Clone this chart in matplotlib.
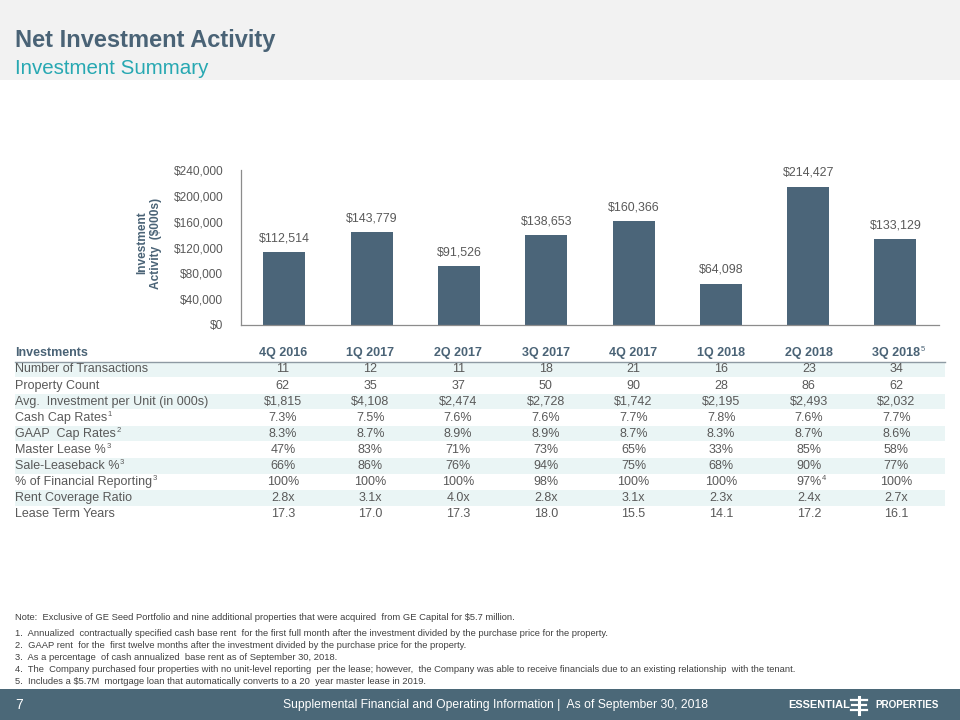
import matplotlib
matplotlib.use("Agg")
import matplotlib.pyplot as plt
from matplotlib.patches import Rectangle
from matplotlib.ticker import FuncFormatter, MultipleLocator

# ---------------- data ----------------
quarters = ["4Q 2016", "1Q 2017", "2Q 2017", "3Q 2017", "4Q 2017", "1Q 2018", "2Q 2018", "3Q 2018"]
quarter_notes = ["", "", "", "", "", "", "", "5"]
investment = [112514, 143779, 91526, 138653, 160366, 64098, 214427, 133129]

row_labels = ["Number of Transactions", "Property Count", "Avg.  Investment per Unit (in 000s)",
              "Cash Cap Rates", "GAAP  Cap Rates", "Master Lease %", "Sale-Leaseback %",
              "% of Financial Reporting", "Rent Coverage Ratio", "Lease Term Years"]
row_label_notes = ["", "", "", "1", "2", "3", "3", "3", "", ""]

transactions = ["11", "12", "11", "18", "21", "16", "23", "34"]
property_count = ["62", "35", "37", "50", "90", "28", "86", "62"]
avg_investment = ["$1,815", "$4,108", "$2,474", "$2,728", "$1,742", "$2,195", "$2,493", "$2,032"]
cash_cap = ["7.3%", "7.5%", "7.6%", "7.6%", "7.7%", "7.8%", "7.6%", "7.7%"]
gaap_cap = ["8.3%", "8.7%", "8.9%", "8.9%", "8.7%", "8.3%", "8.7%", "8.6%"]
master_lease = ["47%", "83%", "71%", "73%", "65%", "33%", "85%", "58%"]
sale_leaseback = ["66%", "86%", "76%", "94%", "75%", "68%", "90%", "77%"]
fin_reporting = ["100%", "100%", "100%", "98%", "100%", "100%", "97%", "100%"]
fin_reporting_notes = ["", "", "", "", "", "", "4", ""]
rent_coverage = ["2.8x", "3.1x", "4.0x", "2.8x", "3.1x", "2.3x", "2.4x", "2.7x"]
lease_term = ["17.3", "17.0", "17.3", "18.0", "15.5", "14.1", "17.2", "16.1"]

table_rows = [transactions, property_count, avg_investment, cash_cap, gaap_cap,
              master_lease, sale_leaseback, fin_reporting, rent_coverage, lease_term]
cell_notes = {(7, i): n for i, n in enumerate(fin_reporting_notes) if n}

footnotes = [
    "Note:  Exclusive of GE Seed Portfolio and nine additional properties that were acquired  from GE Capital for $5.7 million.",
    "1.  Annualized  contractually specified cash base rent  for the first full month after the investment divided by the purchase price for the property.",
    "2.  GAAP rent  for the  first twelve months after the investment divided by the purchase price for the property.",
    "3.  As a percentage  of cash annualized  base rent as of September 30, 2018.",
    "4.  The  Company purchased four properties with no unit-level reporting  per the lease; however,  the Company was able to receive financials due to an existing relationship  with the tenant.",
    "5.  Includes a $5.7M  mortgage loan that automatically converts to a 20  year master lease in 2019.",
]

# ---------------- style ----------------
SANS = ["Liberation Sans", "DejaVu Sans"]
plt.rcParams["font.family"] = SANS
SLATE = "#4a6376"
BAR = "#4b6579"
TEAL = "#27a8b2"
GRAY = "#595959"
BAND = "#eaf5f5"
FOOT = "#4b6878"

W, H = 960, 720
fig = plt.figure(figsize=(9.6, 7.2), dpi=100)
fig.patch.set_facecolor("white")


def fx(x):
    return x / W


def fy(y):
    return 1 - y / H


def rect(x0, y0, x1, y1, color, z=0):
    fig.add_artist(Rectangle((fx(x0), fy(y1)), (x1 - x0) / W, (y1 - y0) / H,
                             transform=fig.transFigure, facecolor=color,
                             edgecolor="none", zorder=z))


def text(x, y, s, **kw):
    kw.setdefault("parse_math", False)
    return fig.text(fx(x), fy(y), s, **kw)


# header band
rect(0, 0, W, 80, "#f2f2f2")
text(15, 46.5, "Net Investment Activity", fontsize=17, fontweight="bold",
     color=SLATE, va="baseline", ha="left")
text(15, 74, "Investment Summary", fontsize=14.8, color=TEAL, va="baseline", ha="left")

# ---------------- bar chart ----------------
ax_left, ax_right = 240.7, 939.1
ax_top, ax_bottom = 170, 325
ax = fig.add_axes([fx(ax_left), fy(ax_bottom), (ax_right - ax_left) / W, (ax_bottom - ax_top) / H])
xpos = list(range(len(quarters)))
bars = ax.bar(xpos, investment, width=0.48, color=BAR, zorder=2)
ax.set_xlim(-0.5, len(quarters) - 0.5)
ax.set_ylim(0, 240000)
ax.yaxis.set_major_locator(MultipleLocator(40000))
ax.yaxis.set_major_formatter(FuncFormatter(lambda v, p: f"${v:,.0f}"))
ax.set_xticks([])
ax.tick_params(axis="y", length=0, pad=12.5, labelsize=8.6, labelcolor=GRAY)
for side in ["top", "right"]:
    ax.spines[side].set_visible(False)
for side in ["left", "bottom"]:
    ax.spines[side].set_color("#8c8c8c")
    ax.spines[side].set_linewidth(0.9)
ax.set_facecolor("none")
for b, v in zip(bars, investment):
    ax.annotate(f"${v:,}", (b.get_x() + b.get_width() / 2, v), xytext=(0, 5.5),
                textcoords="offset points", ha="center", va="bottom",
                fontsize=8.9, color=GRAY)

text(149, 243, "Investment\nActivity  ($000s)", rotation=90, ha="center", va="center",
     multialignment="center", fontsize=8.6, fontweight="bold", color=SLATE, linespacing=1.15)

# ---------------- table ----------------
renderer = fig.canvas.get_renderer()
col_x = [ax_left + (i + 0.5) * (ax_right - ax_left) / len(quarters) - 1.5 for i in range(len(quarters))]
col_x = [c + i * 0.35 for i, c in enumerate(col_x)]
header_y = 353
row_y0 = 369.5
row_h = 16.05
tbl_left, tbl_right = 15, 945


def sup(t, s, color, size=5.5):
    bb = t.get_window_extent(renderer)
    fig.text((bb.x1 + 0.5) / W, (bb.y1 + 1) / H, s, fontsize=size, color=color,
             ha="left", va="top")


# header
text(tbl_left, header_y, "Investments", fontsize=9, fontweight="bold", color=SLATE,
     ha="left", va="center")
for i, q in enumerate(quarters):
    t = text(col_x[i], header_y, q, fontsize=9, fontweight="bold", color=SLATE,
             ha="center", va="center")
    if quarter_notes[i]:
        sup(t, quarter_notes[i], SLATE)
fig.add_artist(plt.Line2D([fx(tbl_left), fx(tbl_right)], [fy(361.8), fy(361.8)],
                          transform=fig.transFigure, color="#8e9aa3", lw=1.0))

for r, (lab, vals) in enumerate(zip(row_labels, table_rows)):
    yc = row_y0 + r * row_h
    if r % 2 == 0:
        rect(tbl_left, yc - row_h / 2 + 0.3, tbl_right, yc + row_h / 2 - 0.3, BAND)
    t = text(tbl_left, yc, lab, fontsize=9, color=GRAY, ha="left", va="center")
    if row_label_notes[r]:
        sup(t, row_label_notes[r], GRAY)
    for i, v in enumerate(vals):
        t = text(col_x[i], yc, v, fontsize=9, color=GRAY, ha="center", va="center")
        if (r, i) in cell_notes:
            sup(t, cell_notes[(r, i)], GRAY)

# ---------------- footnotes ----------------
foot_y = [618, 633, 645.5, 658, 670, 682]
for s, y in zip(footnotes, foot_y):
    text(15, y, s, fontsize=6.75, color="#404040", ha="left", va="center")

# ---------------- footer ----------------
rect(0, 689, W, H, FOOT)
text(15, 705, "7", fontsize=10, color="white", ha="left", va="center")
text(283, 705, "Supplemental Financial and Operating Information |  As of September 30, 2018",
     fontsize=8.7, color="white", ha="left", va="center")
text(788, 705, "ESSENTIAL", fontsize=7.9, fontweight="bold", color="white",
     ha="left", va="center")
text(875, 705, "PROPERTIES", fontsize=7.1, fontweight="bold", color="white",
     ha="left", va="center")
# simple logo mark
lx = 859
fig.add_artist(plt.Line2D([fx(lx), fx(lx)], [fy(697), fy(714)], transform=fig.transFigure,
                          color="white", lw=2.2))
for dy, x0, x1 in [(699.5, 851, 867), (704.5, 852, 866), (709.5, 851, 867)]:
    fig.add_artist(plt.Line2D([fx(x0), fx(x1)], [fy(dy), fy(dy)], transform=fig.transFigure,
                              color="white", lw=1.6))

fig.savefig("out.png", dpi=100)
